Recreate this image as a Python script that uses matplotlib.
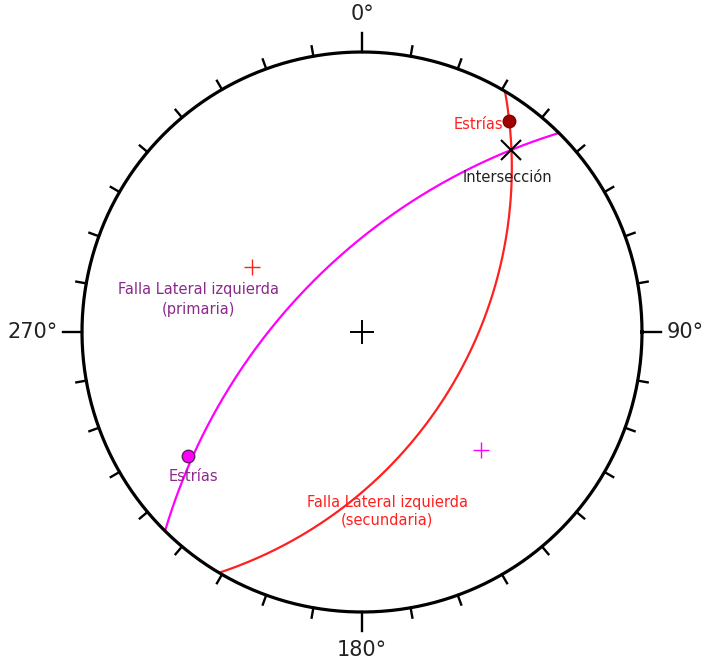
import numpy as np
import matplotlib
matplotlib.use("Agg")
import matplotlib.pyplot as plt

# planos (dirección de buzamiento, buzamiento)
planos = ["primaria", "secundaria"]
dir_buz = [314.7, 120.7]
buzamiento = [61.8, 49.0]
colores = ["#ff00ff", "#ff2020"]

# estrías (trend, plunge)
estrias_trend = [234.5, 34.8]
estrias_plunge = [15.3, 4.9]
estrias_color = ["#ff00ff", "#a00000"]

etiquetas_grados = ["0°", "90°", "180°", "270°"]


def vec(trend, plunge):
    t, p = np.radians(trend), np.radians(plunge)
    return np.array([np.sin(t) * np.cos(p), np.cos(t) * np.cos(p), np.sin(p)])


def proy(v):
    # proyección estereográfica (Wulff), hemisferio inferior
    v = np.asarray(v, dtype=float)
    if v.ndim == 1 and v[2] < 0:
        v = -v
    return v[0] / (1 + v[2]), v[1] / (1 + v[2])


fig = plt.figure(figsize=(7.06, 6.64), dpi=100)
ax = fig.add_axes([0, 0, 1, 1])
ax.set_xlim(-362 / 280, 344 / 280)
ax.set_ylim(-332 / 280, 332 / 280)
ax.set_aspect("equal")
ax.axis("off")

# círculo primitivo
th = np.linspace(0, 2 * np.pi, 400)
ax.plot(np.cos(th), np.sin(th), color="black", lw=2.3, zorder=3)

# marcas cada 10°
for az in range(0, 360, 10):
    a = np.radians(az)
    largo = 0.068 if az % 90 == 0 else 0.036
    ax.plot([np.sin(a), (1 + largo) * np.sin(a)], [np.cos(a), (1 + largo) * np.cos(a)],
            color="black", lw=1.7, zorder=3)

pos_lab = [(0, 1.135, "center", "center"), (1.088, 0, "left", "center"),
           (0, -1.135, "center", "center"), (-1.088, 0, "right", "center")]
for txt, (x, y, ha, va) in zip(etiquetas_grados, pos_lab):
    ax.text(x, y, txt, ha=ha, va=va, fontsize=15, color="#222222")

# centro
ax.plot(0, 0, marker="+", ms=17, mew=1.4, color="black", zorder=4)

polos = []
for dd, d, c in zip(dir_buz, buzamiento, colores):
    rumbo = vec(dd - 90, 0)
    linea_buz = vec(dd, d)
    a = np.linspace(0, np.pi, 300)
    pts = np.outer(rumbo, np.cos(a)) + np.outer(linea_buz, np.sin(a))
    x, y = proy(pts)
    ax.plot(x, y, color=c, lw=1.6, zorder=2)
    polo = vec(dd + 180, 90 - d)
    polos.append(polo)
    px, py = proy(polo)
    ax.plot(px, py, marker="+", ms=12, mew=1.0, color=c, zorder=4)

# intersección de los planos
inter = np.cross(polos[0], polos[1])
ix, iy = proy(inter / np.linalg.norm(inter))
ax.plot(ix, iy, marker="x", ms=15, mew=1.5, color="black", zorder=5)
ax.text(ix - 0.015, iy - 0.1, "Intersección", ha="center", va="center", fontsize=10.5, color="#222222")

# estrías
for t, p, c in zip(estrias_trend, estrias_plunge, estrias_color):
    ex, ey = proy(vec(t, p))
    ax.plot(ex, ey, marker="o", ms=9, mfc=c, mec="#602060" if c == "#ff00ff" else "#800000",
            mew=1.0, zorder=5)

ex, ey = proy(vec(estrias_trend[1], estrias_plunge[1]))
ax.text(ex - 0.02, ey - 0.012, "Estrías", ha="right", va="center", fontsize=10.5, color="#ff2020")
ex, ey = proy(vec(estrias_trend[0], estrias_plunge[0]))
ax.text(ex + 0.02, ey - 0.072, "Estrías", ha="center", va="center", fontsize=10.5, color="#8b2a8b")

ax.text(-0.583, 0.115, "Falla Lateral izquierda\n(primaria)", ha="center", va="center",
        fontsize=10.5, color="#8b2a8b", linespacing=1.4)
ax.text(0.09, -0.64, "Falla Lateral izquierda\n(secundaria)", ha="center", va="center",
        fontsize=10.5, color="#ff2020", linespacing=1.2)

fig.savefig("out.png", dpi=100)
